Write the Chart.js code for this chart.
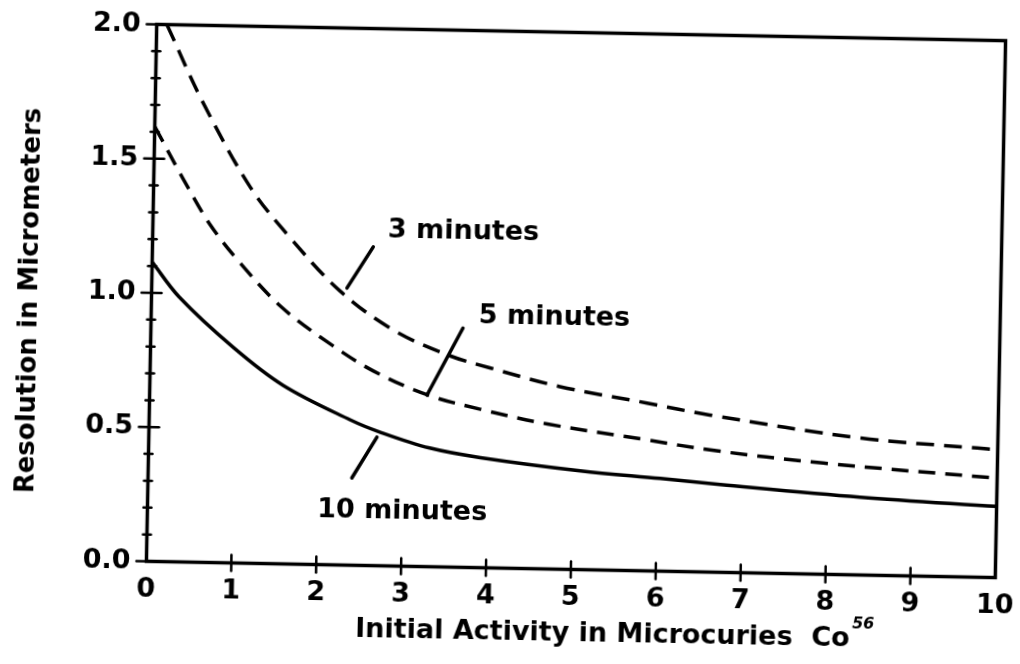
<!DOCTYPE html>
<html>
<head>
<meta charset="utf-8">
<script src="https://cdn.jsdelivr.net/npm/chart.js@4.4.1/dist/chart.umd.min.js"></script>
<style>
  html, body { margin: 0; padding: 0; background: #fff; overflow: hidden; }
  #wrap { position: relative; width: 1020px; height: 664px; }
  /* the scan is turned about one degree clockwise */
  #resChart { position: absolute; left: 0; top: 0; transform: rotate(1.1deg); transform-origin: 576px 301px; }
</style>
</head>
<body>
<div id="wrap"><canvas id="resChart" width="1020" height="664"></canvas></div>
<script>
// values
var activity3 = [0.12, 0.55, 1.14, 1.62, 2.22, 2.85, 3.5, 4.0, 4.83, 5.86, 6.6, 8.38, 9.76, 10];
var res3 = [2.0, 1.72, 1.40, 1.215, 1.02, 0.88, 0.79, 0.745, 0.68, 0.625, 0.585, 0.51, 0.481, 0.476];
var activity5 = [0, 0.34, 0.67, 1.03, 1.52, 2.08, 2.63, 3.27, 3.9, 4.69, 5.87, 6.61, 7.95, 10];
var res5 = [1.62, 1.43, 1.26, 1.12, 0.96, 0.83, 0.725, 0.64, 0.59, 0.54, 0.488, 0.455, 0.414, 0.37];
var activity10 = [0, 0.325, 0.97, 1.57, 2.37, 2.72, 3.31, 3.91, 5.09, 6.03, 6.74, 8.39, 10];
var res10 = [1.115, 0.987, 0.804, 0.665, 0.541, 0.498, 0.442, 0.41, 0.368, 0.345, 0.327, 0.29, 0.265];
var xTickLabels = ['0', '1', '2', '3', '4', '5', '6', '7', '8', '9', '10'];
var yTickLabels = ['0.0', '0.5', '1.0', '1.5', '2.0'];
var curveNames = ['3 minutes', '5 minutes', '10 minutes'];

// where the curve names and their leader lines sit, in data units
var notes = [
  { text: curveNames[0], x: 3.66, y: 1.249, from: [2.60, 1.187], to: [2.30, 1.032] },
  { text: curveNames[1], x: 4.75, y: 0.935, from: [3.675, 0.891], to: [3.266, 0.639] },
  { text: curveNames[2], x: 3.0, y: 0.202, from: [2.687, 0.479], to: [2.40, 0.325] }
];

function pts(xs, ys) {
  return xs.map(function (x, i) { return { x: x, y: ys[i] }; });
}

var FONT = 'DejaVu Sans';

var figurePlugin = {
  id: 'figure',
  afterDraw: function (chart) {
    var c = chart.ctx, a = chart.chartArea;
    var xs = chart.scales.x, ys = chart.scales.y;
    c.save();
    c.strokeStyle = '#000';
    c.fillStyle = '#000';
    c.lineCap = 'round';

    // frame
    c.lineWidth = 3.5;
    c.strokeRect(a.left, a.top, a.right - a.left, a.bottom - a.top);

    // cross ticks on the y axis
    c.lineWidth = 2.5;
    for (var k = 0; k <= 20; k++) {
      var py = ys.getPixelForValue(k / 10);
      var len = (k % 5 === 0) ? 10 : 4;
      c.beginPath();
      c.moveTo(a.left - len, py);
      c.lineTo(a.left + (k === 0 || k === 20 ? 0 : len), py);
      c.stroke();
    }
    // ticks on the x axis
    for (var j = 1; j < 10; j++) {
      var px = xs.getPixelForValue(j);
      c.beginPath();
      c.moveTo(px, a.bottom - 8);
      c.lineTo(px, a.bottom + 8);
      c.stroke();
    }

    // curve names with leaders
    c.lineWidth = 3.5;
    c.font = 'bold 27px "' + FONT + '"';
    c.textAlign = 'center';
    c.textBaseline = 'middle';
    notes.forEach(function (n) {
      c.beginPath();
      c.moveTo(xs.getPixelForValue(n.from[0]), ys.getPixelForValue(n.from[1]));
      c.lineTo(xs.getPixelForValue(n.to[0]), ys.getPixelForValue(n.to[1]));
      c.stroke();
      c.fillText(n.text, xs.getPixelForValue(n.x), ys.getPixelForValue(n.y));
    });

    // axis titles
    c.font = 'bold 26px "' + FONT + '"';
    c.save();
    c.translate(30, (a.top + a.bottom) / 2 + 10);
    c.rotate(-Math.PI / 2);
    c.fillText('Resolution in Micrometers', 0, 0);
    c.restore();

    var main = 'Initial Activity in Microcuries  Co';
    c.font = 'bold 27px "' + FONT + '"';
    var w1 = c.measureText(main).width;
    c.font = 'bold italic 16px "' + FONT + '"';
    var w2 = c.measureText('56').width;
    var x0 = 621 - (w1 + w2 + 2) / 2;
    c.textAlign = 'left';
    c.font = 'bold 27px "' + FONT + '"';
    c.fillText(main, x0, a.bottom + 64);
    c.font = 'bold italic 16px "' + FONT + '"';
    c.fillText('56', x0 + w1 + 2, a.bottom + 49);
    c.restore();
  }
};

var lineStyle = {
  showLine: true,
  borderColor: '#000',
  borderWidth: 3.5,
  pointRadius: 0,
  fill: false,
  tension: 0.35
};

new Chart(document.getElementById('resChart').getContext('2d'), {
  type: 'scatter',
  data: {
    datasets: [
      Object.assign({ label: curveNames[0], data: pts(activity3, res3), borderDash: [18, 10] }, lineStyle),
      Object.assign({ label: curveNames[1], data: pts(activity5, res5), borderDash: [17, 10] }, lineStyle),
      Object.assign({ label: curveNames[2], data: pts(activity10, res10) }, lineStyle)
    ]
  },
  options: {
    responsive: false,
    animation: false,
    devicePixelRatio: 1,
    layout: { padding: { left: 0, right: 19.5, top: 32.5, bottom: 0 } },
    plugins: { legend: { display: false }, tooltip: { enabled: false } },
    scales: {
      x: {
        type: 'linear', min: 0, max: 10,
        grid: { display: false, drawTicks: false },
        border: { display: false },
        ticks: {
          stepSize: 1, padding: 12, maxRotation: 0, color: '#000',
          font: { family: FONT, weight: 'bold', size: 27 },
          callback: function (v, i) { return xTickLabels[i]; }
        },
        afterFit: function (s) { s.height = 94.5; s.paddingLeft = 0; s.paddingRight = 0; }
      },
      y: {
        type: 'linear', min: 0, max: 2,
        grid: { display: false, drawTicks: false },
        border: { display: false },
        ticks: {
          stepSize: 0.5, padding: 16, color: '#000',
          font: { family: FONT, weight: 'bold', size: 27 },
          callback: function (v, i) { return yTickLabels[i]; }
        },
        afterFit: function (s) { s.width = 151.5; s.paddingTop = 0; s.paddingBottom = 0; }
      }
    }
  },
  plugins: [figurePlugin]
});
</script>
</body>
</html>
